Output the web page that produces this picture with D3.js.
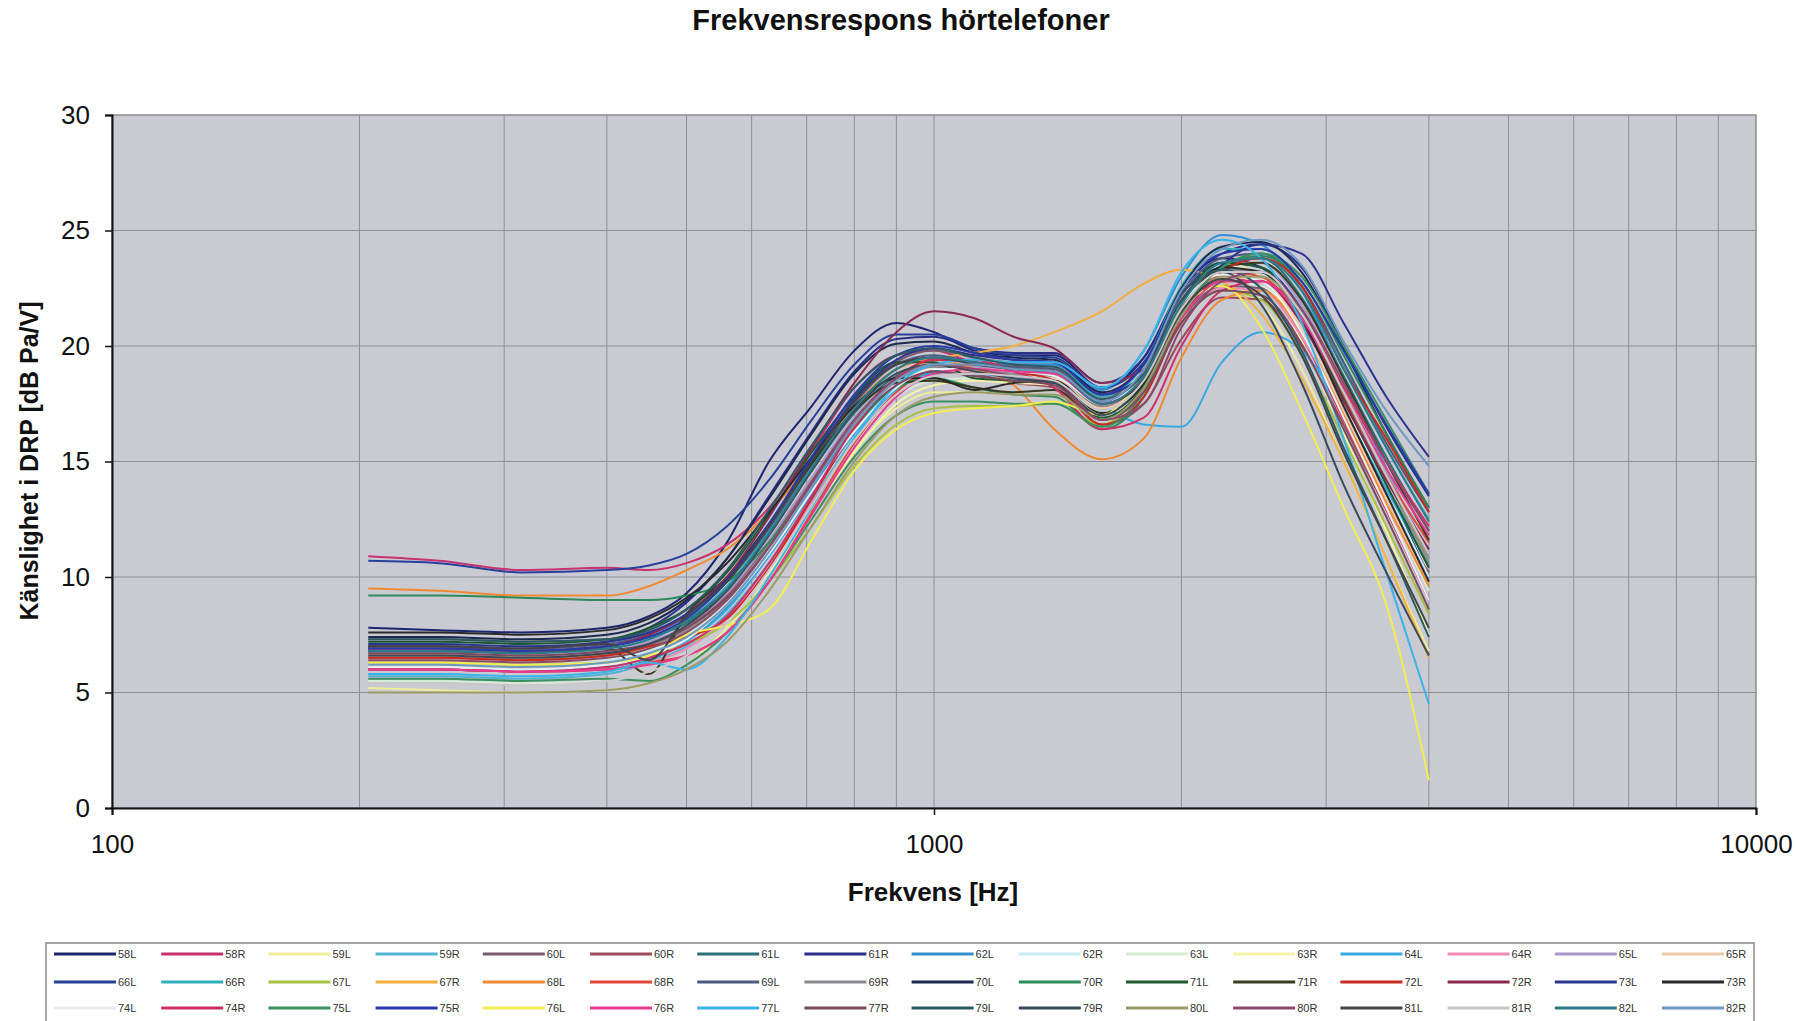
<!DOCTYPE html>
<html>
<head>
<meta charset="utf-8">
<script src="https://cdn.jsdelivr.net/npm/d3@7"></script>
<style>
  body { margin: 0; background: #fff; }
  svg { display: block; font-family: 'Liberation Sans', Arial, sans-serif; }
</style>
</head>
<body>
<svg id="chart" width="1798" height="1021"></svg>
<script>
// measurement frequencies (Hz)
const freqs = [205, 250, 315, 400, 450, 500, 560, 630, 710, 800, 900, 1000, 1120, 1250, 1400, 1600, 1800, 2000, 2240, 2500, 2800, 3150, 3550, 4000]

const xTicks = [100, 1000, 10000]
const yTicks = [0, 5, 10, 15, 20, 25, 30]
const xGrid = [200, 300, 400, 500, 600, 700, 800, 900, 1000, 2000, 3000, 4000, 5000, 6000, 7000, 8000, 9000]

const seriesNames = [
  '58L', '58R', '59L', '59R', '60L', '60R', '61L', '61R', '62L', '62R', '63L', '63R', '64L', '64R', '65L', '65R',
  '66L', '66R', '67L', '67R', '68L', '68R', '69L', '69R', '70L', '70R', '71L', '71R', '72L', '72R', '73L', '73R',
  '74L', '74R', '75L', '75R', '76L', '76R', '77L', '77R', '79L', '79R', '80L', '80R', '81L', '81R', '82L', '82R'
]

// sensitivity in dB Pa/V, one value per frequency
const v58L = [7.8, 7.7, 7.6, 7.8, 8.3, 9.3, 11.5, 15.0, 17.4, 19.8, 21.0, 20.6, 19.8, 19.6, 19.6, 18.2, 19.5, 22.5, 23.8, 23.4, 21.4, 17.9, 14.0, 10.0]
const v58R = [10.9, 10.7, 10.3, 10.4, 10.3, 10.6, 11.4, 13.0, 15.5, 18.2, 19.6, 19.8, 19.3, 19.2, 19.2, 17.9, 19.2, 21.8, 23.0, 22.6, 20.4, 16.8, 12.9, 9.0]
const v59L = [5.2, 5.1, 5.0, 5.1, 5.4, 6.2, 7.8, 10.0, 12.8, 15.5, 17.3, 18.0, 18.0, 17.9, 17.9, 17.0, 18.6, 21.5, 22.6, 21.8, 19.0, 15.0, 10.8, 6.8]
const v59R = [5.7, 5.7, 5.6, 5.8, 6.3, 7.0, 8.4, 10.6, 13.3, 16.0, 18.2, 19.0, 19.0, 18.9, 18.8, 17.2, 18.6, 21.8, 23.4, 23.2, 21.3, 17.8, 14.0, 10.8]
const v60L = [7.3, 7.3, 7.2, 7.3, 7.6, 8.3, 9.8, 12.2, 15.0, 17.6, 19.3, 19.8, 19.5, 19.3, 19.3, 17.8, 18.8, 21.2, 22.6, 22.5, 20.6, 17.2, 13.6, 11.2]
const v60R = [6.6, 6.6, 6.5, 6.7, 7.0, 7.8, 9.2, 11.5, 14.2, 16.8, 18.5, 19.0, 18.8, 18.4, 18.2, 16.6, 17.5, 20.3, 22.1, 22.0, 20.0, 16.6, 13.0, 10.2]
const v61L = [6.9, 6.9, 6.8, 7.0, 7.4, 8.0, 9.5, 11.9, 14.6, 17.1, 18.7, 19.2, 19.0, 18.8, 18.7, 17.4, 18.6, 21.6, 23.4, 23.8, 22.1, 18.7, 15.2, 12.0]
const v61R = [7.0, 7.0, 6.9, 7.2, 7.8, 8.9, 10.8, 13.5, 16.3, 18.9, 20.3, 20.4, 19.9, 19.7, 19.7, 18.4, 19.5, 22.4, 24.0, 24.4, 23.4, 20.0, 16.5, 13.5]
const v62L = [6.0, 6.0, 5.9, 6.0, 6.4, 7.2, 8.7, 11.0, 13.8, 16.4, 18.2, 18.9, 19.2, 19.2, 19.2, 18.1, 19.8, 23.0, 24.8, 24.4, 22.4, 18.6, 14.7, 10.8]
const v62R = [6.3, 6.3, 6.2, 6.4, 6.8, 7.5, 8.9, 11.2, 14.0, 16.6, 18.4, 19.0, 19.0, 18.9, 18.8, 17.6, 19.0, 22.0, 23.5, 23.2, 21.2, 17.6, 13.8, 10.0]
const v63L = [5.5, 5.5, 5.4, 5.5, 5.9, 6.6, 8.0, 10.3, 13.0, 15.8, 17.8, 18.5, 18.6, 18.5, 18.3, 16.9, 18.2, 21.2, 22.8, 22.6, 20.6, 17.0, 13.2, 9.4]
const v63R = [6.2, 6.2, 6.1, 6.3, 6.6, 7.2, 8.2, 10.2, 12.8, 15.4, 17.5, 18.3, 18.5, 18.4, 18.3, 17.1, 18.8, 22.0, 23.6, 23.0, 20.2, 16.2, 12.0, 7.5]
const v64L = [6.0, 6.0, 5.9, 6.1, 6.5, 7.2, 8.6, 10.9, 13.6, 16.2, 18.1, 18.8, 18.8, 18.6, 18.5, 17.4, 16.6, 16.5, 19.3, 20.6, 19.8, 17.2, 13.8, 10.5]
const v64R = [6.0, 6.0, 5.9, 6.0, 6.3, 6.9, 8.2, 10.4, 13.2, 15.9, 17.9, 18.7, 18.9, 18.9, 18.8, 17.4, 18.4, 21.0, 22.5, 22.4, 20.4, 17.0, 13.4, 9.8]
const v65L = [6.7, 6.7, 6.6, 6.8, 7.2, 7.9, 9.3, 11.6, 14.3, 16.9, 18.6, 19.2, 19.1, 18.9, 18.8, 17.5, 18.9, 22.0, 23.6, 23.6, 21.8, 18.3, 14.6, 11.0]
const v65R = [6.4, 6.4, 6.3, 6.5, 6.9, 7.6, 9.0, 11.3, 14.0, 16.6, 18.4, 19.0, 18.9, 18.8, 18.6, 17.3, 18.5, 21.4, 23.0, 22.8, 20.8, 17.2, 13.4, 9.6]
const v66L = [10.7, 10.6, 10.2, 10.3, 10.5, 11.0, 12.2, 14.2, 16.8, 19.2, 20.5, 20.5, 19.9, 19.6, 19.5, 18.2, 19.3, 22.2, 23.6, 23.4, 21.6, 18.0, 14.4, 11.0]
const v66R = [6.8, 6.8, 6.7, 6.9, 7.3, 8.1, 9.6, 12.0, 14.8, 17.3, 19.0, 19.5, 19.3, 19.1, 19.1, 17.8, 19.2, 22.6, 24.2, 24.2, 22.6, 19.2, 15.6, 12.5]
const v67L = [6.3, 6.3, 6.2, 6.3, 6.6, 7.1, 8.0, 9.8, 12.2, 14.8, 16.6, 17.3, 17.4, 17.4, 17.5, 16.6, 18.2, 21.0, 22.4, 22.0, 19.6, 16.0, 12.2, 8.4]
const v67R = [6.6, 6.6, 6.5, 6.6, 6.9, 7.6, 9.0, 11.3, 14.0, 16.7, 18.6, 19.4, 19.7, 20.0, 20.6, 21.5, 22.7, 23.3, 22.8, 21.4, 18.6, 15.0, 10.8, 6.5]
const v68L = [9.5, 9.4, 9.2, 9.2, 9.6, 10.3, 11.2, 12.8, 15.0, 17.4, 19.0, 19.4, 19.0, 18.3, 16.4, 15.1, 16.0, 19.5, 22.0, 22.4, 20.6, 17.0, 13.2, 9.6]
const v68R = [6.0, 6.0, 5.9, 6.0, 6.3, 6.6, 7.6, 9.8, 12.8, 15.8, 18.0, 19.0, 19.2, 19.1, 19.0, 17.6, 18.8, 21.6, 23.2, 23.0, 21.0, 17.8, 14.4, 11.5]
const v69L = [7.0, 7.0, 6.9, 7.1, 7.5, 8.3, 9.8, 12.1, 14.9, 17.5, 19.2, 19.6, 19.3, 19.1, 19.0, 17.6, 18.9, 22.2, 23.8, 24.0, 22.6, 19.3, 15.8, 12.8]
const v69R = [6.5, 6.5, 6.4, 6.6, 7.0, 7.7, 9.1, 11.4, 14.1, 16.7, 18.5, 19.1, 19.0, 18.8, 18.7, 17.4, 18.7, 21.8, 23.3, 23.2, 21.4, 18.0, 14.3, 10.6]
const v70L = [7.4, 7.4, 7.3, 7.5, 8.0, 9.0, 10.8, 13.4, 16.2, 18.8, 20.1, 20.2, 19.7, 19.5, 19.4, 18.0, 19.2, 22.5, 24.3, 24.5, 23.2, 19.9, 16.2, 13.0]
const v70R = [9.2, 9.2, 9.1, 9.0, 9.0, 9.2, 9.8, 11.5, 14.0, 16.5, 18.2, 18.6, 18.2, 17.9, 17.8, 16.4, 17.8, 21.3, 23.5, 23.9, 22.8, 19.6, 16.2, 13.0]
const v71L = [7.2, 7.2, 7.1, 7.3, 7.8, 8.6, 10.2, 12.7, 15.4, 17.8, 19.3, 19.3, 18.6, 18.5, 18.4, 16.9, 18.3, 21.9, 23.6, 23.4, 21.4, 17.7, 14.0, 10.4]
const v71R = [6.8, 6.8, 6.7, 6.9, 5.8, 8.4, 10.0, 12.3, 14.9, 17.2, 18.4, 18.5, 18.2, 18.0, 18.1, 16.8, 18.2, 21.6, 23.4, 23.6, 22.0, 18.6, 15.0, 11.6]
const v72L = [6.5, 6.5, 6.4, 6.6, 7.0, 7.4, 8.2, 10.4, 13.4, 16.4, 18.6, 19.4, 19.3, 18.9, 18.5, 16.6, 17.8, 21.2, 23.2, 23.8, 22.6, 19.0, 16.0, 12.8]
const v72R = [6.9, 6.9, 6.8, 7.0, 7.5, 8.4, 10.0, 12.6, 15.6, 18.4, 20.6, 21.5, 21.2, 20.4, 19.9, 18.4, 19.0, 21.4, 22.8, 22.8, 21.0, 17.6, 14.2, 11.2]
const v73L = [7.1, 7.1, 7.0, 7.2, 7.6, 8.4, 9.9, 12.3, 15.1, 17.7, 19.4, 19.9, 19.6, 19.4, 19.3, 17.9, 18.8, 21.4, 23.5, 24.4, 24.0, 21.0, 17.8, 15.2]
const v73R = [7.6, 7.6, 7.5, 7.7, 8.2, 9.1, 10.6, 12.8, 15.2, 17.4, 18.6, 18.6, 18.1, 18.4, 18.5, 17.1, 18.4, 21.8, 23.4, 23.2, 21.2, 17.4, 13.6, 9.8]
const v74L = [6.1, 6.1, 6.0, 6.2, 6.6, 7.3, 8.8, 11.0, 13.7, 16.3, 18.2, 19.0, 19.0, 18.9, 18.7, 17.5, 18.8, 21.8, 23.1, 22.8, 20.6, 16.9, 13.0, 9.0]
const v74R = [6.0, 6.0, 5.9, 6.1, 6.5, 7.1, 8.3, 10.6, 13.5, 16.5, 18.6, 19.4, 19.4, 18.9, 18.2, 16.4, 16.9, 20.0, 22.4, 22.8, 21.4, 18.2, 15.0, 12.2]
const v75L = [5.6, 5.6, 5.5, 5.6, 5.5, 6.2, 7.6, 9.8, 12.5, 15.2, 17.0, 17.6, 17.6, 17.5, 17.5, 16.5, 18.0, 21.4, 23.4, 24.0, 23.0, 20.0, 16.8, 13.6]
const v75R = [6.9, 6.9, 6.8, 7.0, 7.4, 8.2, 9.8, 12.3, 15.2, 17.9, 19.6, 20.0, 19.7, 19.4, 19.3, 17.9, 19.2, 22.4, 24.0, 24.2, 22.8, 19.8, 16.6, 13.6]
const v76L = [6.3, 6.3, 6.2, 6.3, 6.6, 7.5, 7.9, 8.6, 11.6, 14.6, 16.4, 17.1, 17.3, 17.4, 17.6, 17.0, 18.8, 21.6, 22.6, 20.8, 17.2, 13.0, 8.8, 1.2]
const v76R = [6.0, 6.0, 5.9, 6.0, 6.2, 6.6, 7.6, 9.8, 12.7, 15.6, 17.8, 18.8, 19.0, 18.9, 18.8, 17.5, 18.6, 21.2, 22.8, 22.8, 21.2, 18.0, 14.7, 11.8]
const v77L = [5.8, 5.8, 5.7, 5.9, 6.3, 6.0, 7.4, 10.0, 13.0, 16.0, 18.3, 19.2, 19.4, 19.3, 19.3, 18.2, 19.8, 23.2, 24.6, 23.8, 21.0, 16.0, 10.2, 4.5]
const v77R = [6.7, 6.7, 6.6, 6.8, 7.1, 7.8, 9.1, 11.3, 14.0, 16.6, 18.3, 18.9, 18.7, 18.5, 18.3, 16.8, 18.0, 21.0, 22.4, 22.2, 20.1, 16.4, 12.6, 8.6]
const v79L = [7.3, 7.3, 7.2, 7.3, 7.7, 8.6, 10.3, 12.9, 15.7, 18.2, 19.6, 19.9, 19.5, 19.2, 19.1, 17.7, 18.8, 22.0, 23.3, 22.5, 19.8, 15.6, 11.6, 7.4]
const v79R = [6.6, 6.6, 6.5, 6.7, 7.1, 7.9, 9.4, 11.8, 14.6, 17.2, 18.8, 19.2, 18.9, 18.6, 18.4, 17.0, 18.6, 22.3, 23.2, 21.8, 18.4, 14.0, 10.2, 6.6]
const v80L = [5.0, 5.0, 5.0, 5.1, 5.4, 6.0, 7.2, 9.4, 12.2, 15.0, 17.0, 17.8, 18.0, 17.9, 17.9, 16.8, 18.2, 21.3, 23.0, 23.0, 21.4, 18.0, 14.4, 10.8]
const v80R = [6.4, 6.4, 6.3, 6.5, 6.9, 7.6, 9.0, 11.3, 14.1, 16.8, 18.6, 19.2, 19.0, 18.7, 18.5, 16.8, 17.5, 20.8, 22.8, 23.2, 21.6, 18.4, 15.0, 12.0]
const v81L = [7.0, 7.0, 6.9, 7.1, 6.4, 8.3, 9.8, 12.2, 15.0, 17.6, 19.2, 19.5, 19.2, 19.0, 18.9, 17.5, 18.5, 21.5, 22.9, 22.2, 19.6, 15.4, 11.6, 7.8]
const v81R = [5.4, 5.4, 5.3, 5.5, 5.9, 6.6, 8.0, 10.3, 13.1, 15.9, 17.9, 18.7, 18.8, 18.7, 18.5, 17.2, 18.5, 21.6, 23.2, 23.2, 21.4, 18.0, 14.4, 11.0]
const v82L = [6.8, 6.8, 6.7, 6.9, 7.3, 8.1, 9.5, 11.9, 14.7, 17.3, 19.0, 19.5, 19.3, 19.0, 18.9, 17.5, 18.7, 21.8, 23.6, 23.8, 22.4, 19.0, 15.6, 12.4]
const v82R = [6.2, 6.2, 6.1, 6.3, 6.7, 7.4, 8.8, 11.1, 13.9, 16.6, 18.5, 19.2, 19.2, 19.0, 18.9, 17.6, 19.0, 22.4, 24.2, 24.6, 23.5, 20.2, 17.2, 14.8]

const seriesValues = [
  v58L, v58R, v59L, v59R, v60L, v60R, v61L, v61R, v62L, v62R, v63L, v63R, v64L, v64R, v65L, v65R,
  v66L, v66R, v67L, v67R, v68L, v68R, v69L, v69R, v70L, v70R, v71L, v71R, v72L, v72R, v73L, v73R,
  v74L, v74R, v75L, v75R, v76L, v76R, v77L, v77R, v79L, v79R, v80L, v80R, v81L, v81R, v82L, v82R
]

const seriesColors = [
  '#1c2670', '#c8326e', '#eded9a', '#4fb3d4', '#7a5a6e', '#9a4a5a', '#2a7078', '#2a2f8c',
  '#2f8fd0', '#c6ecf2', '#d6ecd6', '#f5f3a8', '#3aa8e0', '#ee8ab8', '#a898c8', '#f0caa8',
  '#27409a', '#30b0b8', '#a8c040', '#f2b040', '#f08a30', '#e0483a', '#4e5a80', '#8a8a90',
  '#1c2a50', '#2e8a5a', '#1e5a30', '#3a3a22', '#c82a20', '#8a2a50', '#2a3590', '#2a2a2a',
  '#e8eef0', '#d03068', '#3a9060', '#2a3aa8', '#f2ee50', '#e83a90', '#38b4e8', '#7a4a60',
  '#2a5a66', '#3a4a5a', '#9a9a6a', '#8a4a6a', '#444448', '#c8c8cc', '#2e7a8a', '#7098c0'
]

const plot = { left: 112, right: 1756, top: 115, bottom: 808 }

const svg = d3.select('#chart')

const x = d3.scaleLog().domain([100, 10000]).range([plot.left, plot.right])
const y = d3.scaleLinear().domain([0, 30]).range([plot.bottom, plot.top])

// plot area
svg.append('rect')
  .attr('x', plot.left)
  .attr('y', plot.top)
  .attr('width', plot.right - plot.left)
  .attr('height', plot.bottom - plot.top)
  .attr('fill', '#cacad2')
  .attr('stroke', '#8c8c94')
  .attr('stroke-width', 1.5)

svg.append('g')
  .selectAll('line')
  .data(xGrid)
  .enter()
  .append('line')
  .attr('x1', d => x(d))
  .attr('x2', d => x(d))
  .attr('y1', plot.top)
  .attr('y2', plot.bottom)
  .attr('stroke', '#8e8e98')
  .attr('stroke-width', 1)

svg.append('g')
  .selectAll('line')
  .data(yTicks.filter(d => d > 0 && d < 30))
  .enter()
  .append('line')
  .attr('x1', plot.left)
  .attr('x2', plot.right)
  .attr('y1', d => y(d))
  .attr('y2', d => y(d))
  .attr('stroke', '#8e8e98')
  .attr('stroke-width', 1)

// curves
const line = d3.line()
  .x((d, i) => x(freqs[i]))
  .y(d => y(d))
  .curve(d3.curveMonotoneX)

svg.append('g')
  .selectAll('path')
  .data(seriesValues)
  .enter()
  .append('path')
  .attr('d', d => line(d))
  .attr('fill', 'none')
  .attr('stroke', (d, i) => seriesColors[i])
  .attr('stroke-width', 2)
  .attr('stroke-linejoin', 'round')

// axes
const yAxis = svg.append('g')
  .attr('transform', `translate(${plot.left},0)`)
  .call(d3.axisLeft(y).tickValues(yTicks).tickSize(7).tickPadding(15).tickFormat(d3.format('d')))

const xAxis = svg.append('g')
  .attr('transform', `translate(0,${plot.bottom})`)
  .call(d3.axisBottom(x).tickValues(xTicks).tickSize(7).tickPadding(20).tickFormat(d3.format('d')))

for (const ax of [xAxis, yAxis]) {
  ax.select('.domain').attr('stroke', '#111').attr('stroke-width', 2)
  ax.selectAll('.tick line').attr('stroke', '#111').attr('stroke-width', 1.5)
  ax.selectAll('.tick text')
    .attr('fill', '#111')
    .style('font-size', '26px')
    .style('font-family', "'Liberation Sans', Arial, sans-serif")
}

// titles
svg.append('text')
  .attr('x', 901)
  .attr('y', 30)
  .attr('text-anchor', 'middle')
  .style('font-size', '29px')
  .style('font-weight', 'bold')
  .attr('fill', '#111')
  .text('Frekvensrespons hörtelefoner')

svg.append('text')
  .attr('transform', 'translate(38,461) rotate(-90)')
  .attr('text-anchor', 'middle')
  .style('font-size', '25px')
  .style('font-weight', 'bold')
  .attr('fill', '#111')
  .text('Känslighet i DRP [dB Pa/V]')

svg.append('text')
  .attr('x', 933)
  .attr('y', 901)
  .attr('text-anchor', 'middle')
  .style('font-size', '26px')
  .style('font-weight', 'bold')
  .attr('fill', '#111')
  .text('Frekvens [Hz]')

// legend
const legend = svg.append('g')

legend.append('rect')
  .attr('x', 46)
  .attr('y', 943)
  .attr('width', 1708)
  .attr('height', 100)
  .attr('fill', '#fff')
  .attr('stroke', '#888')
  .attr('stroke-width', 1.5)

const colW = 107.2
const rowY = [954, 982, 1008]

const items = legend.selectAll('g.item')
  .data(seriesNames)
  .enter()
  .append('g')
  .attr('class', 'item')
  .attr('transform', (d, i) => `translate(${54 + (i % 16) * colW},${rowY[Math.floor(i / 16)]})`)

items.append('line')
  .attr('x1', 0)
  .attr('x2', 62)
  .attr('stroke', (d, i) => seriesColors[i])
  .attr('stroke-width', 3)

items.append('text')
  .attr('x', 64)
  .attr('dy', '0.35em')
  .style('font-size', '11px')
  .attr('fill', '#333')
  .text(d => d)
</script>
</body>
</html>
